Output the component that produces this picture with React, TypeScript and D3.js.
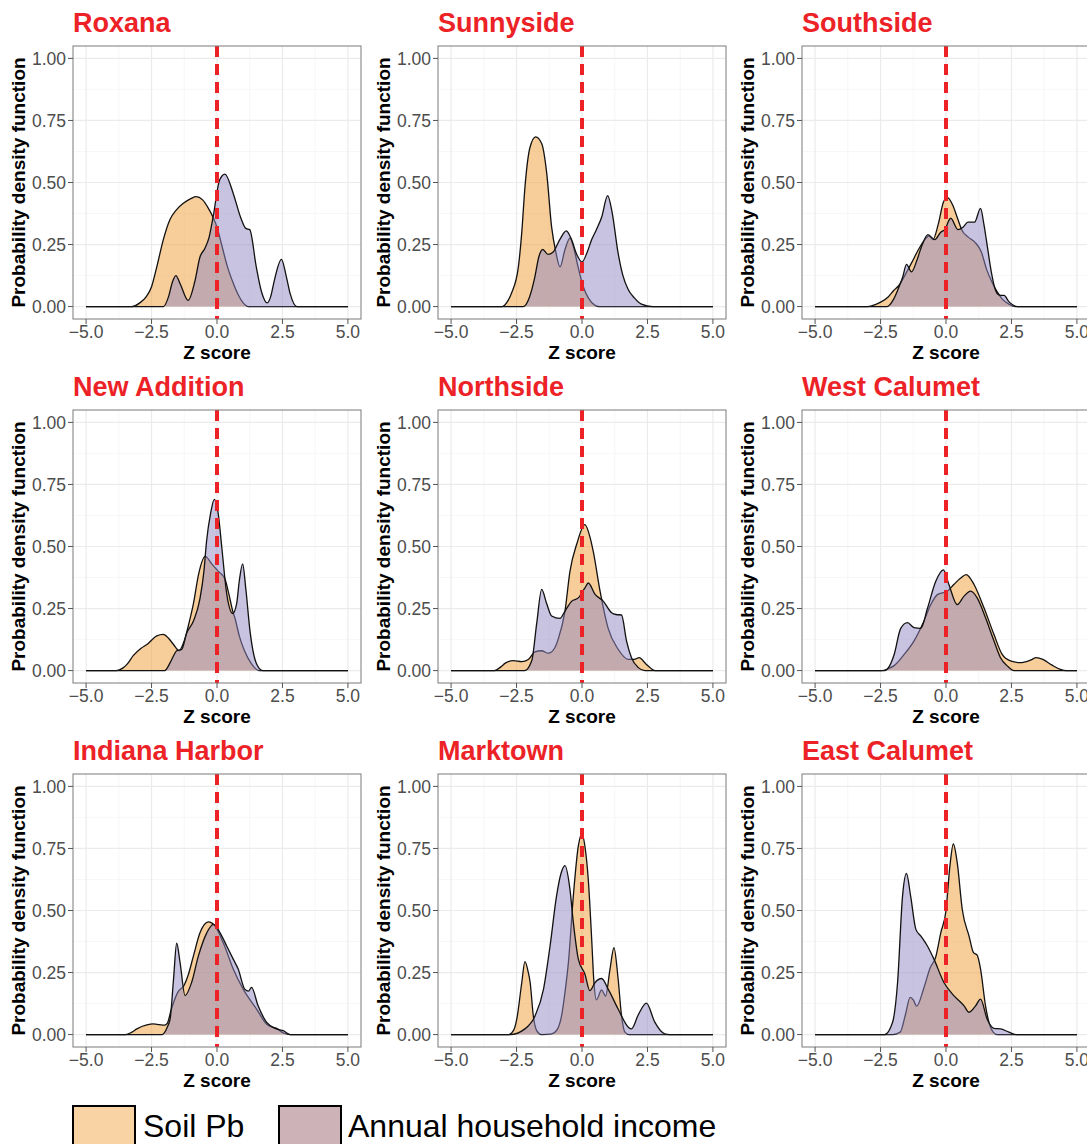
import React from 'react';
import * as d3 from 'd3';

type Pt = [number, number];

// neighbourhoods, row by row
const neighborhoods = [
  'Roxana', 'Sunnyside', 'Southside',
  'New Addition', 'Northside', 'West Calumet',
  'Indiana Harbor', 'Marktown', 'East Calumet',
];

// density curves: [z score, density]
const roxanaSoil: Pt[] = [[-3.25, 0], [-2.95, 0.015], [-2.7, 0.04], [-2.5, 0.08], [-2.3, 0.16], [-2.05, 0.27], [-1.8, 0.35], [-1.55, 0.39], [-1.3, 0.415], [-1.0, 0.435], [-0.8, 0.443], [-0.55, 0.43], [-0.35, 0.4], [-0.15, 0.36], [0, 0.32], [0.2, 0.24], [0.4, 0.16], [0.6, 0.1], [0.8, 0.05], [1.0, 0.015], [1.2, 0]];
const roxanaIncome: Pt[] = [[-2.05, 0], [-1.85, 0.04], [-1.7, 0.1], [-1.57, 0.125], [-1.4, 0.09], [-1.1, 0.025], [-0.85, 0.1], [-0.65, 0.2], [-0.46, 0.235], [-0.3, 0.28], [-0.15, 0.36], [0.1, 0.51], [0.3, 0.534], [0.62, 0.456], [0.9, 0.36], [1.1, 0.315], [1.25, 0.31], [1.5, 0.16], [1.7, 0.06], [1.92, 0.015], [2.05, 0.04], [2.2, 0.11], [2.46, 0.19], [2.65, 0.12], [2.8, 0.05], [3.05, 0]];

const sunnysideSoil: Pt[] = [[-3.05, 0], [-2.85, 0.02], [-2.69, 0.055], [-2.43, 0.16], [-2.3, 0.3], [-2.18, 0.48], [-1.99, 0.64], [-1.77, 0.684], [-1.54, 0.657], [-1.35, 0.54], [-1.16, 0.32], [-1.0, 0.22], [-0.84, 0.16], [-0.65, 0.23], [-0.46, 0.276], [-0.3, 0.23], [-0.15, 0.16], [0.05, 0.08], [0.24, 0.035], [0.5, 0.005], [0.65, 0]];
const sunnysideIncome: Pt[] = [[-2.25, 0], [-2.0, 0.04], [-1.8, 0.12], [-1.65, 0.2], [-1.5, 0.23], [-1.3, 0.21], [-1.1, 0.22], [-0.85, 0.27], [-0.6, 0.305], [-0.4, 0.27], [-0.2, 0.21], [0, 0.18], [0.2, 0.22], [0.37, 0.27], [0.55, 0.31], [0.75, 0.36], [0.98, 0.447], [1.15, 0.38], [1.38, 0.215], [1.55, 0.13], [1.76, 0.07], [2.0, 0.035], [2.27, 0.01], [2.7, 0]];

const southsideSoil: Pt[] = [[-3.0, 0], [-2.7, 0.008], [-2.46, 0.02], [-2.2, 0.04], [-2.0, 0.065], [-1.8, 0.085], [-1.55, 0.13], [-1.32, 0.175], [-1.05, 0.23], [-0.81, 0.27], [-0.65, 0.285], [-0.5, 0.27], [-0.3, 0.33], [-0.1, 0.42], [0.05, 0.44], [0.25, 0.41], [0.46, 0.35], [0.6, 0.31], [0.85, 0.28], [1.1, 0.26], [1.35, 0.22], [1.55, 0.15], [1.75, 0.1], [1.95, 0.06], [2.15, 0.03], [2.4, 0.01], [2.65, 0]];
const southsideIncome: Pt[] = [[-2.25, 0], [-2.0, 0.03], [-1.83, 0.07], [-1.65, 0.12], [-1.51, 0.17], [-1.32, 0.14], [-1.1, 0.19], [-0.94, 0.24], [-0.69, 0.29], [-0.43, 0.27], [-0.2, 0.3], [-0.05, 0.31], [0.18, 0.356], [0.46, 0.31], [0.65, 0.32], [0.84, 0.34], [1.09, 0.34], [1.32, 0.396], [1.45, 0.33], [1.54, 0.27], [1.73, 0.14], [1.85, 0.08], [1.98, 0.05], [2.1, 0.045], [2.22, 0.045], [2.4, 0.02], [2.75, 0]];

const newAdditionSoil: Pt[] = [[-3.85, 0], [-3.6, 0.01], [-3.44, 0.025], [-3.2, 0.06], [-2.9, 0.09], [-2.68, 0.105], [-2.3, 0.14], [-2.05, 0.146], [-1.85, 0.13], [-1.66, 0.105], [-1.45, 0.08], [-1.25, 0.12], [-1.05, 0.2], [-0.9, 0.27], [-0.7, 0.39], [-0.45, 0.46], [-0.2, 0.43], [0.05, 0.4], [0.3, 0.37], [0.45, 0.31], [0.6, 0.24], [0.69, 0.21], [0.85, 0.14], [1.05, 0.08], [1.3, 0.03], [1.6, 0]];
const newAdditionIncome: Pt[] = [[-2.0, 0], [-1.8, 0.03], [-1.66, 0.06], [-1.54, 0.08], [-1.35, 0.085], [-1.16, 0.15], [-0.9, 0.2], [-0.65, 0.29], [-0.5, 0.4], [-0.4, 0.52], [-0.25, 0.63], [-0.1, 0.69], [0.05, 0.63], [0.18, 0.5], [0.37, 0.31], [0.6, 0.23], [0.75, 0.27], [0.85, 0.36], [0.98, 0.43], [1.1, 0.33], [1.26, 0.16], [1.5, 0.03], [1.75, 0]];

const northsideSoil: Pt[] = [[-3.35, 0], [-3.1, 0.015], [-2.93, 0.03], [-2.62, 0.04], [-2.3, 0.036], [-2.05, 0.045], [-1.8, 0.075], [-1.55, 0.08], [-1.28, 0.07], [-1.05, 0.09], [-0.9, 0.13], [-0.65, 0.24], [-0.46, 0.4], [-0.2, 0.51], [0.11, 0.588], [0.3, 0.54], [0.43, 0.48], [0.69, 0.32], [1.0, 0.17], [1.38, 0.086], [1.77, 0.045], [2.0, 0.045], [2.18, 0.052], [2.46, 0.025], [2.8, 0]];
const northsideIncome: Pt[] = [[-2.2, 0], [-1.92, 0.04], [-1.73, 0.19], [-1.54, 0.327], [-1.35, 0.27], [-1.16, 0.22], [-0.84, 0.21], [-0.65, 0.24], [-0.39, 0.28], [-0.14, 0.293], [0.11, 0.333], [0.24, 0.353], [0.5, 0.307], [0.81, 0.28], [1.13, 0.233], [1.3, 0.226], [1.51, 0.224], [1.7, 0.12], [1.89, 0.052], [2.15, 0.012], [2.4, 0]];

const westCalumetSoil: Pt[] = [[-2.45, 0], [-2.2, 0.008], [-1.98, 0.02], [-1.6, 0.065], [-1.22, 0.12], [-0.84, 0.2], [-0.58, 0.266], [-0.33, 0.306], [0.05, 0.32], [0.3, 0.347], [0.56, 0.373], [0.77, 0.387], [1.07, 0.347], [1.45, 0.253], [1.83, 0.146], [2.14, 0.066], [2.46, 0.039], [2.84, 0.032], [3.22, 0.042], [3.45, 0.052], [3.7, 0.045], [4.05, 0.022], [4.37, 0.005], [4.6, 0]];
const westCalumetIncome: Pt[] = [[-2.35, 0], [-2.15, 0.02], [-1.98, 0.065], [-1.73, 0.17], [-1.47, 0.193], [-1.22, 0.173], [-0.96, 0.17], [-0.71, 0.25], [-0.39, 0.36], [-0.1, 0.406], [0.11, 0.347], [0.43, 0.266], [0.69, 0.3], [0.94, 0.32], [1.19, 0.293], [1.51, 0.213], [1.83, 0.12], [2.08, 0.052], [2.33, 0.02], [2.6, 0]];

const indianaHarborSoil: Pt[] = [[-3.5, 0], [-3.25, 0.01], [-3.06, 0.023], [-2.68, 0.039], [-2.43, 0.043], [-2.2, 0.04], [-2.0, 0.038], [-1.9, 0.045], [-1.75, 0.1], [-1.5, 0.17], [-1.25, 0.2], [-1.1, 0.24], [-0.9, 0.317], [-0.65, 0.41], [-0.33, 0.454], [-0.08, 0.438], [0.24, 0.37], [0.62, 0.264], [1.0, 0.183], [1.51, 0.103], [1.89, 0.043], [2.1, 0.03], [2.27, 0.025], [2.53, 0.007], [2.8, 0]];
const indianaHarborIncome: Pt[] = [[-2.1, 0], [-1.9, 0.03], [-1.79, 0.063], [-1.66, 0.224], [-1.54, 0.368], [-1.41, 0.29], [-1.22, 0.157], [-0.97, 0.21], [-0.71, 0.317], [-0.39, 0.41], [-0.14, 0.444], [0, 0.43], [0.17, 0.4], [0.37, 0.357], [0.62, 0.304], [0.81, 0.264], [1.06, 0.183], [1.2, 0.175], [1.32, 0.19], [1.57, 0.116], [1.89, 0.05], [2.27, 0.023], [2.53, 0.016], [2.8, 0]];

const marktownSoil: Pt[] = [[-2.8, 0], [-2.6, 0.02], [-2.49, 0.063], [-2.3, 0.21], [-2.18, 0.294], [-2.05, 0.25], [-1.98, 0.21], [-1.86, 0.076], [-1.73, 0.016], [-1.55, 0], [-1.16, 0.003], [-0.95, 0.02], [-0.78, 0.076], [-0.65, 0.17], [-0.52, 0.29], [-0.33, 0.56], [-0.14, 0.76], [0, 0.81], [0.11, 0.76], [0.24, 0.625], [0.37, 0.384], [0.45, 0.22], [0.55, 0.14], [0.75, 0.18], [0.9, 0.155], [1.07, 0.264], [1.22, 0.35], [1.38, 0.224], [1.51, 0.076], [1.64, 0.01], [1.8, 0]];
const marktownIncome: Pt[] = [[-2.75, 0], [-2.18, 0.023], [-1.79, 0.076], [-1.47, 0.183], [-1.22, 0.357], [-0.97, 0.56], [-0.8, 0.65], [-0.65, 0.681], [-0.46, 0.585], [-0.33, 0.451], [-0.14, 0.304], [0.11, 0.244], [0.3, 0.177], [0.5, 0.21], [0.75, 0.226], [1.0, 0.183], [1.38, 0.103], [1.77, 0.03], [1.89, 0.023], [2.15, 0.08], [2.46, 0.127], [2.78, 0.05], [3.16, 0.003], [3.35, 0]];

const eastCalumetSoil: Pt[] = [[-2.05, 0], [-1.75, 0.01], [-1.55, 0.08], [-1.37, 0.15], [-1.25, 0.14], [-1.12, 0.115], [-0.84, 0.19], [-0.6, 0.27], [-0.4, 0.31], [-0.2, 0.41], [0, 0.5], [0.15, 0.68], [0.28, 0.768], [0.43, 0.692], [0.62, 0.505], [0.88, 0.397], [1.05, 0.33], [1.19, 0.32], [1.32, 0.264], [1.51, 0.116], [1.7, 0.03], [1.95, 0]];
const eastCalumetIncome: Pt[] = [[-2.35, 0], [-2.04, 0.05], [-1.85, 0.21], [-1.66, 0.558], [-1.51, 0.649], [-1.35, 0.558], [-1.15, 0.424], [-0.96, 0.397], [-0.71, 0.357], [-0.46, 0.304], [-0.08, 0.21], [0.3, 0.157], [0.69, 0.116], [0.88, 0.09], [1.13, 0.116], [1.32, 0.143], [1.57, 0.063], [1.83, 0.025], [2.08, 0.023], [2.4, 0.01], [2.7, 0]];

const soilSeries = [roxanaSoil, sunnysideSoil, southsideSoil, newAdditionSoil, northsideSoil, westCalumetSoil, indianaHarborSoil, marktownSoil, eastCalumetSoil];
const incomeSeries = [roxanaIncome, sunnysideIncome, southsideIncome, newAdditionIncome, northsideIncome, westCalumetIncome, indianaHarborIncome, marktownIncome, eastCalumetIncome];

const zTicks = [-5, -2.5, 0, 2.5, 5];
const zMinor = [-3.75, -1.25, 1.25, 3.75];
const densityTicks = [0, 0.25, 0.5, 0.75, 1];
const densityMinor = [0.125, 0.375, 0.625, 0.875];
const seriesNames = ['Soil Pb', 'Annual household income'];

const W = 1087;
const H = 1144;
const colX = [73, 438, 802];
const rowY = [46, 410, 774];
const pw = 288;
const ph = 273;
const font = '"Liberation Sans", Arial, Helvetica, sans-serif';
const red = '#EC2227';
const soilFill = '#EF9B35';
const incomeFill = '#8F88C2';

const x = d3.scaleLinear().domain([-5.5, 5.5]).range([0, pw]);
const y = d3.scaleLinear().domain([-0.05, 1.05]).range([ph, 0]);

const area = d3.area<Pt>().x(d => x(d[0])).y0(y(0)).y1(d => y(d[1])).curve(d3.curveMonotoneX);
const line = d3.line<Pt>().x(d => x(d[0])).y(d => y(d[1])).curve(d3.curveMonotoneX);

// the densities are drawn on the full -5..5 range, flat zero in the tails
const full = (pts: Pt[]): Pt[] => [[-5, 0], ...pts, [5, 0]];

const fmtX = d3.format('.1f');
const fmtY = d3.format('.2f');

function Panel({ name, soil, income, left, top }: { name: string; soil: Pt[]; income: Pt[]; left: number; top: number }) {
  const s = full(soil);
  const inc = full(income);
  return (
    <g transform={`translate(${left},${top})`}>
      <text x={0} y={-14} fill={red} fontSize={27} fontWeight="bold" fontFamily={font}>{name}</text>
      <rect x={0} y={0} width={pw} height={ph} fill="white" />
      {zMinor.map(t => <line key={'xm' + t} x1={x(t)} x2={x(t)} y1={0} y2={ph} stroke="#F3F3F3" strokeWidth={0.7} />)}
      {densityMinor.map(t => <line key={'ym' + t} x1={0} x2={pw} y1={y(t)} y2={y(t)} stroke="#F3F3F3" strokeWidth={0.7} />)}
      {zTicks.map(t => <line key={'xg' + t} x1={x(t)} x2={x(t)} y1={0} y2={ph} stroke="#EBEBEB" strokeWidth={1.2} />)}
      {densityTicks.map(t => <line key={'yg' + t} x1={0} x2={pw} y1={y(t)} y2={y(t)} stroke="#EBEBEB" strokeWidth={1.2} />)}

      <path d={area(s) || ''} fill={soilFill} fillOpacity={0.5} />
      <path d={line(s) || ''} fill="none" stroke="#111" strokeWidth={1.3} />
      <path d={area(inc) || ''} fill={incomeFill} fillOpacity={0.5} />
      <path d={line(inc) || ''} fill="none" stroke="#111" strokeWidth={1.3} />

      <line x1={x(0)} x2={x(0)} y1={0} y2={ph} stroke={red} strokeWidth={4} strokeDasharray="11,7" />
      <rect x={0} y={0} width={pw} height={ph} fill="none" stroke="#7A7A7A" strokeWidth={1} />

      {densityTicks.map(t => (
        <g key={'yt' + t}>
          <line x1={-5} x2={0} y1={y(t)} y2={y(t)} stroke="#555" strokeWidth={1} />
          <text x={-7} y={y(t)} dy="0.36em" textAnchor="end" fontSize={17.5} fill="#4D4D4D" fontFamily={font}>{fmtY(t)}</text>
        </g>
      ))}
      {zTicks.map(t => (
        <g key={'xt' + t}>
          <line x1={x(t)} x2={x(t)} y1={ph} y2={ph + 5} stroke="#555" strokeWidth={1} />
          <text x={x(t)} y={ph + 19} textAnchor="middle" fontSize={17.5} fill="#4D4D4D" fontFamily={font}>{fmtX(t)}</text>
        </g>
      ))}
      <text x={pw / 2} y={ph + 40} textAnchor="middle" fontSize={19} fontWeight="bold" fontFamily={font}>Z score</text>
      <text transform={`translate(-55,${ph / 2}) rotate(-90)`} dy="0.36em" textAnchor="middle" fontSize={19} fontWeight="bold" fontFamily={font}>
        Probability density function
      </text>
    </g>
  );
}

export default function App() {
  return (
    <svg width={W} height={H} style={{ position: 'absolute', left: 0, top: 0, background: 'white' }}>
      {neighborhoods.map((n, i) => (
        <Panel key={n} name={n} soil={soilSeries[i]} income={incomeSeries[i]} left={colX[i % 3]} top={rowY[Math.floor(i / 3)]} />
      ))}
      <g fontFamily={font}>
        <rect x={73} y={1106} width={62} height={62} fill="#F9D3A3" stroke="black" strokeWidth={2} />
        <text x={143} y={1137} fontSize={32}>{seriesNames[0]}</text>
        <rect x={279} y={1106} width={62} height={62} fill="#CDB3B8" stroke="black" strokeWidth={2} />
        <text x={348} y={1137} fontSize={32}>{seriesNames[1]}</text>
      </g>
    </svg>
  );
}
